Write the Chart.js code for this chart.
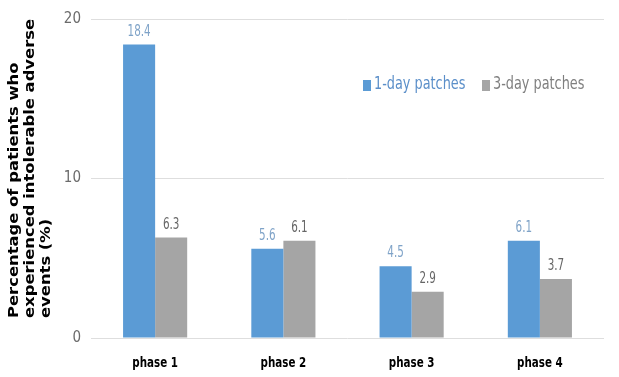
<!DOCTYPE html>
<html>
<head>
<meta charset="utf-8">
<script src="https://cdn.jsdelivr.net/npm/chart.js@4.4.1/dist/chart.umd.min.js"></script>
<style>
  html, body { margin: 0; padding: 0; background: #ffffff; }
  #wrap { width: 619px; height: 377px; position: relative; }
</style>
</head>
<body>
<div id="wrap"><canvas id="c" width="619" height="377"></canvas></div>
<script>
// Phases and percentage of patients with intolerable adverse events
const categories = ['phase 1', 'phase 2', 'phase 3', 'phase 4'];
const oneDay = [18.4, 5.6, 4.5, 6.1];
const threeDay = [6.3, 6.1, 2.9, 3.7];
const seriesNames = ['1-day patches', '3-day patches'];
const yTicks = [0, 10, 20];
const yTitleLines = ['Percentage of patients who', 'experienced intolerable adverse', 'events (%)'];

const BLUE = '#5b9bd5';
const GRAY = '#a5a5a5';
const LABEL_BLUE = '#7fa3c8';
const LABEL_GRAY = '#666666';
const COND = '"DejaVu Sans Condensed", sans-serif';

// draw text squeezed horizontally to get a narrow face
function narrowText(ctx, text, x, y, squeeze) {
  ctx.save();
  ctx.translate(x, y);
  ctx.scale(squeeze, 1);
  ctx.fillText(text, 0, 0);
  ctx.restore();
}

// value labels above each bar
const valueLabels = {
  id: 'valueLabels',
  afterDatasetsDraw(chart) {
    const ctx = chart.ctx;
    ctx.save();
    ctx.font = '16px ' + COND;
    ctx.textAlign = 'center';
    ctx.textBaseline = 'alphabetic';
    chart.data.datasets.forEach((ds, i) => {
      const meta = chart.getDatasetMeta(i);
      ctx.fillStyle = i === 0 ? LABEL_BLUE : LABEL_GRAY;
      meta.data.forEach((bar, j) => {
        narrowText(ctx, ds.data[j].toFixed(1), bar.x, bar.y - 9, 0.72);
      });
    });
    ctx.restore();
  }
};

// category names under the x axis, narrow bold face
const categoryLabels = {
  id: 'categoryLabels',
  afterDraw(chart) {
    const ctx = chart.ctx;
    const xs = chart.scales.x;
    ctx.save();
    ctx.font = 'bold 14px ' + COND;
    ctx.fillStyle = '#000000';
    ctx.textAlign = 'center';
    ctx.textBaseline = 'alphabetic';
    xs.ticks.forEach((t, i) => {
      narrowText(ctx, xs.getLabelForValue(t.value), xs.getPixelForTick(i), 367, 0.82);
    });
    ctx.restore();
  }
};

// legend drawn inside the plot area
const innerLegend = {
  id: 'innerLegend',
  afterDraw(chart) {
    const ctx = chart.ctx;
    ctx.save();
    ctx.font = '17px ' + COND;
    ctx.textBaseline = 'middle';
    ctx.textAlign = 'left';
    const y = 85;
    const items = [
      { x: 363, color: BLUE, text: seriesNames[0], textColor: '#5b8fc9' },
      { x: 482, color: GRAY, text: seriesNames[1], textColor: '#7f7f7f' }
    ];
    items.forEach(it => {
      ctx.fillStyle = it.color;
      ctx.fillRect(it.x, y - 5, 8, 11);
      ctx.fillStyle = it.textColor;
      narrowText(ctx, it.text, it.x + 11, y, 0.84);
    });
    ctx.restore();
  }
};

// bold rotated y-axis title, lines starting from the bottom
const yTitle = {
  id: 'yTitle',
  afterDraw(chart) {
    const ctx = chart.ctx;
    ctx.save();
    ctx.font = 'bold 14px "DejaVu Sans", sans-serif';
    ctx.fillStyle = '#000000';
    ctx.textAlign = 'left';
    ctx.textBaseline = 'middle';
    const xs = [14, 30, 46];
    yTitleLines.forEach((line, i) => {
      ctx.save();
      ctx.translate(xs[i], 318);
      ctx.rotate(-Math.PI / 2);
      ctx.scale(1.17, 1);
      ctx.fillText(line, 0, 0);
      ctx.restore();
    });
    ctx.restore();
  }
};

new Chart(document.getElementById('c'), {
  type: 'bar',
  data: {
    labels: categories,
    datasets: [
      { label: seriesNames[0], data: oneDay, backgroundColor: BLUE },
      { label: seriesNames[1], data: threeDay, backgroundColor: GRAY }
    ]
  },
  options: {
    responsive: false,
    animation: false,
    devicePixelRatio: 1,
    layout: { padding: { top: 17, right: 15, left: 0, bottom: 0 } },
    datasets: { bar: { categoryPercentage: 0.5, barPercentage: 1.0 } },
    plugins: {
      legend: { display: false },
      tooltip: { enabled: false }
    },
    scales: {
      x: {
        grid: { display: false, drawTicks: false },
        border: { display: false },
        ticks: { display: false },
        afterFit(scale) { scale.height = 39; }
      },
      y: {
        min: 0,
        max: 20,
        afterBuildTicks(scale) { scale.ticks = yTicks.map(v => ({ value: v })); },
        grid: { color: '#dedede', lineWidth: 1, drawTicks: false },
        border: { display: false },
        ticks: {
          color: '#6b6b6b',
          font: { family: COND, size: 15 },
          padding: 10
        },
        afterFit(scale) { scale.width = 91; }
      }
    }
  },
  plugins: [valueLabels, categoryLabels, innerLegend, yTitle]
});
</script>
</body>
</html>
